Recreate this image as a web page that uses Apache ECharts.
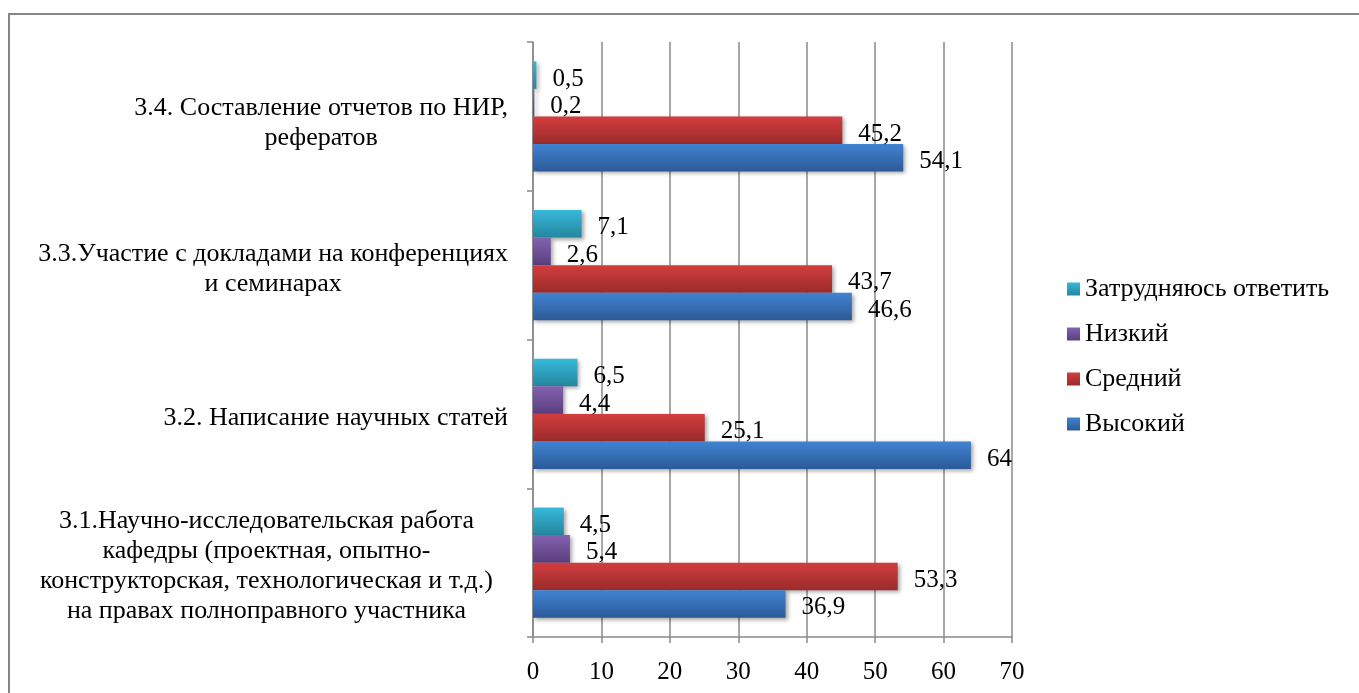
<!DOCTYPE html>
<html>
<head>
<meta charset="utf-8">
<script src="https://cdn.jsdelivr.net/npm/echarts@6/dist/echarts.min.js"></script>
<style>
html,body{margin:0;padding:0;background:#fff;}
#chart{width:1359px;height:693px;}
</style>
</head>
<body>
<div id="chart"></div>
<script>
var categories = [
  "3.1.Научно-исследовательская работа\nкафедры (проектная, опытно-\nконструкторская, технологическая и т.д.)\nна правах полноправного участника",
  "3.2. Написание научных статей",
  "3.3.Участие с докладами на конференциях\nи семинарах",
  "3.4. Составление отчетов по НИР,\nрефератов"
];
var seriesNames = ["Затрудняюсь ответить", "Низкий", "Средний", "Высокий"];
var hard = [4.5, 6.5, 7.1, 0.5];
var low = [5.4, 4.4, 2.6, 0.2];
var medium = [53.3, 25.1, 43.7, 45.2];
var high = [36.9, 64, 46.6, 54.1];
var xTicks = [0, 10, 20, 30, 40, 50, 60, 70];

var FONT = "'Liberation Serif', 'Times New Roman', serif";
var TXT = 26, NUM = 25;
function grad(top, bottom) {
  return new echarts.graphic.LinearGradient(0, 0, 0, 1, [
    {offset: 0, color: top}, {offset: 1, color: bottom}
  ]);
}
var colors = [
  grad('#37b9da', '#24869e'),
  grad('#8462b0', '#5a3e7e'),
  grad('#d33d3d', '#9b2b2b'),
  grad('#4083d2', '#2c5a98')
];
var dataSets = [hard, low, medium, high];

var chart = echarts.init(document.getElementById('chart'), null, {renderer: 'canvas'});

var series = seriesNames.map(function (name, i) {
  return {
    name: name,
    type: 'bar',
    data: dataSets[i],
    barGap: '0%',
    barCategoryGap: '26%',
    itemStyle: {
      color: colors[i],
      shadowColor: 'rgba(0,0,0,0.35)',
      shadowBlur: 4,
      shadowOffsetX: 2,
      shadowOffsetY: 2
    },
    label: {
      show: true,
      position: 'right',
      distance: 16,
      offset: [0, 4],
      color: '#000',
      fontFamily: FONT,
      fontSize: NUM,
      formatter: function (p) { return String(p.value).replace('.', ','); }
    }
  };
});

var yData = categories.map(function (c, i) {
  if (i === 3) return {value: c, textStyle: {padding: [14, 0, 0, 0]}};
  return c;
});

var option = {
  animation: false,
  backgroundColor: '#fff',
  grid: {left: 533, right: 347, top: 42, bottom: 56, containLabel: false},
  legend: {
    orient: 'vertical',
    left: 1062,
    top: 271,
    data: ["Затрудняюсь ответить", "Низкий", "Средний", "Высокий"],
    icon: 'rect',
    itemWidth: 13,
    itemHeight: 13,
    itemGap: 19,
    textStyle: {fontFamily: FONT, fontSize: TXT, color: '#000'}
  },
  xAxis: {
    type: 'value',
    min: xTicks[0],
    max: xTicks[xTicks.length - 1],
    interval: 10,
    axisLine: {show: true, lineStyle: {color: '#8a8a8a', width: 1.5}},
    axisTick: {show: true, length: 6, lineStyle: {color: '#8a8a8a', width: 1.5}},
    splitLine: {show: true, lineStyle: {color: '#8a8a8a', width: 1.5}},
    axisLabel: {margin: 23, color: '#000', fontFamily: FONT, fontSize: NUM}
  },
  yAxis: {
    type: 'category',
    data: yData,
    axisLine: {show: true, lineStyle: {color: '#8a8a8a', width: 1.5}},
    axisTick: {show: true, length: 6, lineStyle: {color: '#8a8a8a', width: 1.5}},
    axisLabel: {
      margin: 25,
      padding: [8, 0, 0, 0],
      color: '#000',
      fontFamily: FONT,
      fontSize: TXT,
      lineHeight: 30,
      formatter: function (v, idx) {
        var key = idx === 0 ? 'd' : 'c';
        return v.split('\n').map(function (l) { return '{' + key + '|' + l + '}'; }).join('\n');
      },
      rich: {
        c: {align: 'center', fontFamily: FONT, fontSize: TXT, lineHeight: 30, color: '#000'},
        d: {align: 'center', fontFamily: FONT, fontSize: TXT, lineHeight: 30, color: '#000', padding: [0, 15, 0, 0]}
      }
    }
  },
  graphic: [{
    type: 'rect',
    silent: true,
    z: -10,
    shape: {x: 9, y: 14, width: 1400, height: 720},
    style: {fill: 'none', stroke: '#868686', lineWidth: 2}
  }],
  series: series
};
chart.setOption(option);
</script>
</body>
</html>
